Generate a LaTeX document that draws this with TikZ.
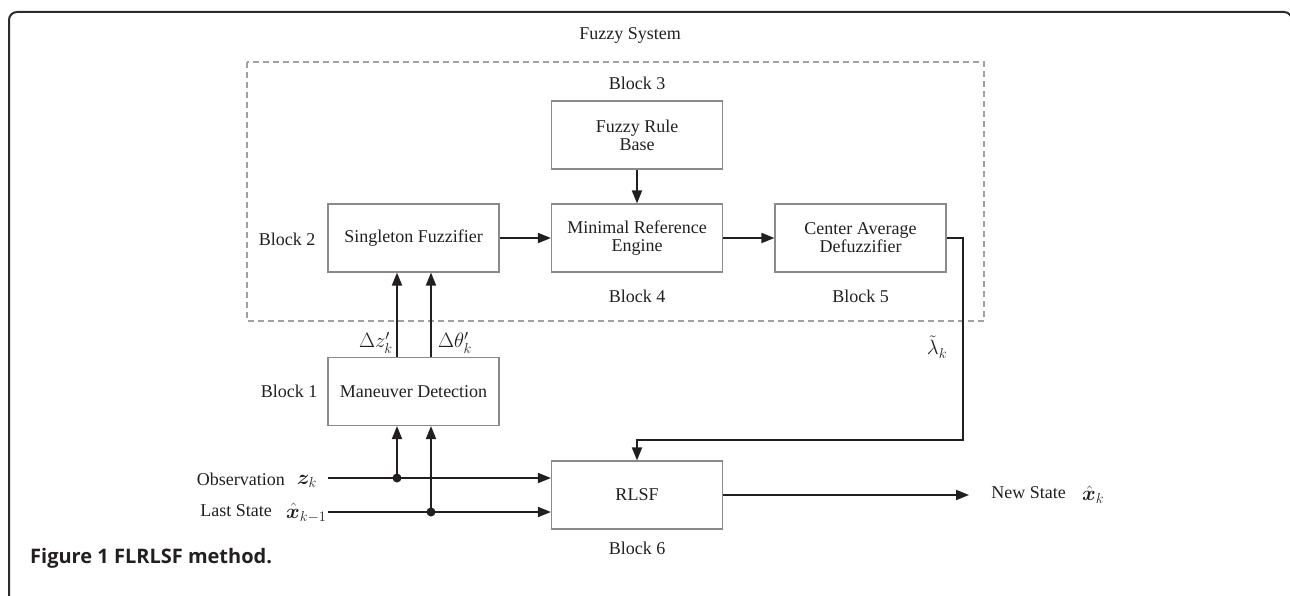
\documentclass[tikz,border=0pt]{standalone}
\usepackage{amsmath,bm}
\usepackage{fontspec}
\setmainfont{Liberation Serif}
\newfontfamily\capfont{Open Sans}
\usetikzlibrary{arrows.meta}
\definecolor{ink}{HTML}{231F20}
\definecolor{boxgray}{HTML}{8A8A8A}
\definecolor{dashgray}{HTML}{A0A0A0}
\definecolor{framecol}{HTML}{2B2B2B}
\begin{document}
\begin{tikzpicture}[x=1pt,y=-1pt,
  blockbox/.style={draw=boxgray,line width=1.1pt,minimum width=171pt,minimum height=68pt,align=center,inner sep=0pt,font=\fontsize{18}{18}\selectfont,text=ink},
  lbl/.style={font=\fontsize{18}{20}\selectfont,text=ink,inner sep=0pt},
  mlbl/.style={font=\fontsize{21}{23}\selectfont,text=ink,inner sep=0pt},
  arr/.style={draw=ink,line width=1.8pt,-{Triangle[length=13pt,width=10pt]}},
  dot/.style={circle,fill=ink,inner sep=0pt,minimum size=9pt}]
\clip (0,0) rectangle (1290,596);
\draw[framecol,line width=2pt,rounded corners=8pt] (9,620) -- (9,12) -- (1292,12) -- (1292,620);
\draw[dashgray,line width=1.2pt,dash pattern=on 6pt off 4pt] (247,62) rectangle (984,321);
% boxes
\node[blockbox] (frb) at (637,135) {Fuzzy Rule\\Base};
\node[blockbox] (sf) at (413.5,238) {Singleton Fuzzifier};
\node[blockbox] (mre) at (637,238) {Minimal Reference\\Engine};
\node[blockbox] (caf) at (860.5,238) {Center Average\\Defuzzifier};
\node[blockbox] (md) at (413.5,391.5) {Maneuver Detection};
\node[blockbox] (rlsf) at (637,495) {RLSF};
% labels
\node[lbl] (fs) at (630,35) {Fuzzy System};
\node[lbl] (b3) at (637,83) {Block 3};
\node[lbl] (b2) at (287,239) {Block 2};
\node[lbl] (b4) at (637,296) {Block 4};
\node[lbl] (b5) at (860.5,296) {Block 5};
\node[lbl] (b1) at (289,391) {Block 1};
\node[lbl] (b6) at (637,548) {Block 6};
% inputs
\coordinate (obsin) at (328,478);
\coordinate (lastin) at (328,512);
\node[dot] (d1) at (397,478) {};
\node[dot] (d2) at (431,512) {};
\draw[arr] (obsin) -- (obsin -| rlsf.west);
\draw[arr] (lastin) -- (lastin -| rlsf.west);
\draw[arr] (d1.center) -- (d1.center |- md.south);
\draw[arr] (d2.center) -- (d2.center |- md.south);
\draw[arr] (md.north -| d1) -- (sf.south -| d1);
\draw[arr] (md.north -| d2) -- (sf.south -| d2);
\node[mlbl,anchor=east] (dz) at (393,343) {$\Delta z'_k$};
\node[mlbl,anchor=west] (dth) at (438,343) {$\Delta\theta'_k$};
\node[lbl,anchor=east] (obs) at (285,479) {Observation};
\node[mlbl,anchor=west] (zk) at (297,481) {$\bm{z}_k$};
\node[lbl,anchor=east] (last) at (272,511) {Last State};
\node[mlbl,anchor=west] (xk1) at (286,513) {$\hat{\bm{x}}_{k-1}$};
% fuzzy chain
\draw[arr] (frb.south) -- (mre.north);
\draw[arr] (sf.east) -- (mre.west);
\draw[arr] (mre.east) -- (caf.west);
\coordinate (fb) at (963,440);
\draw[arr] (caf.east) -| (fb) -| (rlsf.north);
\node[mlbl] (lam) at (937,347) {$\tilde{\lambda}_k$};
% output
\coordinate (out) at (969,495);
\draw[arr] (rlsf.east) -- (out);
\node[lbl,anchor=east] (ns) at (1066,493) {New State};
\node[mlbl,anchor=west] (xk) at (1082,495) {$\hat{\bm{x}}_k$};
% caption
\node[anchor=base west,font=\capfont\bfseries\fontsize{20}{22}\selectfont,text=ink,inner sep=0pt] (cap) at (30,563) {Figure 1 FLRLSF method.};
\end{tikzpicture}
\end{document}
